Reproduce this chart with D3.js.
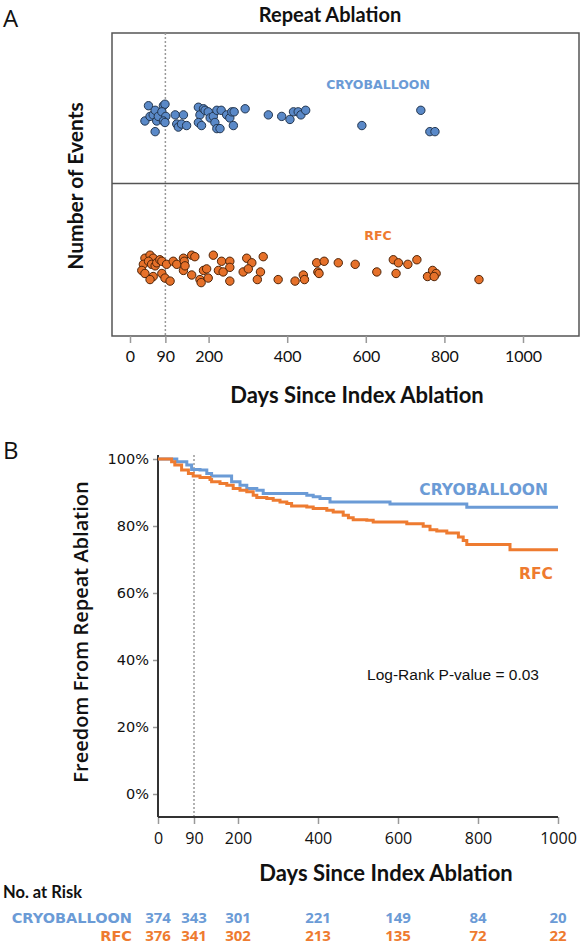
<!DOCTYPE html>
<html><head><meta charset="utf-8">
<script src="https://cdn.jsdelivr.net/npm/d3@7"></script>
<style>body{margin:0;background:#fff}svg{display:block}</style>
</head><body>
<script>
// ---------- DATA ----------
const xTicks = [0, 90, 200, 400, 600, 800, 1000];
const yTicksB = [0, 20, 40, 60, 80, 100];
// Panel A events: day of repeat ablation and vertical jitter (band units)
const cryoDays = [47,38,51,59,64,68,72,64,85,89,81,91,85,89,115,119,123,131,136,144,174,178,174,187,182,191,199,204,212,216,221,229,221,232,246,254,259,265,263,293,352,386,407,416,428,435,447,590,740,763,776];
const cryoJit  = [0.51,0.41,0.44,0.45,0.48,0.41,0.44,0.34,0.51,0.52,0.47,0.44,0.41,0.40,0.45,0.39,0.37,0.39,0.45,0.38,0.50,0.45,0.40,0.49,0.38,0.48,0.47,0.43,0.44,0.40,0.36,0.36,0.48,0.48,0.45,0.43,0.47,0.47,0.38,0.49,0.45,0.44,0.42,0.47,0.47,0.45,0.48,0.38,0.48,0.34,0.34];
const rfcDays = [38,51,59,34,30,38,47,55,64,68,76,81,59,51,81,89,93,102,110,119,136,138,136,140,157,165,157,178,181,187,195,199,212,233,225,237,254,254,254,288,297,310,301,324,332,339,377,420,441,444,475,494,478,481,530,573,628,670,683,677,707,730,757,770,779,774,888];
const rfcJit  = [-0.49,-0.47,-0.49,-0.53,-0.57,-0.59,-0.51,-0.53,-0.54,-0.52,-0.50,-0.51,-0.61,-0.63,-0.59,-0.62,-0.53,-0.64,-0.51,-0.53,-0.49,-0.51,-0.57,-0.54,-0.47,-0.48,-0.60,-0.63,-0.65,-0.57,-0.56,-0.62,-0.47,-0.51,-0.57,-0.58,-0.51,-0.55,-0.64,-0.58,-0.49,-0.52,-0.56,-0.63,-0.58,-0.48,-0.63,-0.64,-0.60,-0.63,-0.52,-0.51,-0.58,-0.59,-0.52,-0.53,-0.58,-0.50,-0.52,-0.59,-0.53,-0.50,-0.61,-0.57,-0.59,-0.61,-0.63];
// Panel B Kaplan-Meier (percent free from repeat ablation)
const cryoTimes = [0,47,72,84,105,122,134,184,205,222,247,263,372,388,405,430,580,772,1000];
const cryoSurv  = [100,99.2,98.2,96.9,96.7,95.7,94.9,93.2,92.2,91.2,90.7,89.7,89.2,88.7,88.2,87.2,86.6,85.6,85.6];
const rfcTimes = [0,34,42,59,76,88,105,130,134,155,172,188,205,222,238,247,272,288,305,322,334,372,388,422,438,463,476,488,522,538,622,663,680,697,722,751,763,772,880,1000];
const rfcSurv  = [100,99.2,98.2,96.7,95.7,94.9,94.5,93.9,93.2,92.7,92.2,91.2,90.7,90.2,89.2,88.5,88.2,87.7,87.2,86.7,86.0,85.7,85.2,84.7,84.2,83.2,82.5,81.9,81.7,81.2,80.7,79.9,78.9,78.5,77.9,76.7,75.7,74.5,72.9,72.9];
// Number at risk
const riskDays = [0, 90, 200, 400, 600, 800, 1000];
const cryoRisk = [374, 343, 301, 221, 149, 84, 20];
const rfcRisk  = [376, 341, 302, 213, 135, 72, 22];
const groupNames = ["CRYOBALLOON", "RFC"];

// ---------- STYLE ----------
const BLUE = "#6b9bd6", ORANGE = "#ee7b30";
const DOT_BLUE = "#5a89c8", DOT_OR = "#e6712a";
const sansA = "Lato, 'Open Sans', sans-serif";
const sansB = "'Open Sans', 'Noto Sans', sans-serif";
const wide = "'DejaVu Sans', sans-serif";

const svg = d3.select("body").append("svg").attr("width", 583).attr("height", 947);
svg.append("rect").attr("width",583).attr("height",947).attr("fill","#fff");

// ================= PANEL A =================
const A = {left:112, right:579, top:33, bottom:336};
const xA = d3.scaleLinear().domain([0,1000]).range([130,523]);
const yA = d3.scaleLinear().domain([-1,1]).range([A.bottom, 31]);

svg.append("text").attr("x",3).attr("y",27).text("A")
  .attr("font-family","'Open Sans', sans-serif").attr("font-size",24).attr("fill","#111");
svg.append("text").attr("x",330).attr("y",22).attr("text-anchor","middle").text("Repeat Ablation")
  .attr("font-family",sansA).attr("font-weight","bold").attr("font-size",20).attr("fill","#111");

svg.append("rect").attr("x",A.left).attr("y",A.top).attr("width",A.right-A.left).attr("height",A.bottom-A.top)
  .attr("fill","none").attr("stroke","#555").attr("stroke-width",1.5);
svg.append("line").attr("x1",A.left).attr("x2",A.right).attr("y1",yA(0)).attr("y2",yA(0))
  .attr("stroke","#555").attr("stroke-width",1.5);
svg.append("line").attr("x1",xA(90)).attr("x2",xA(90)).attr("y1",A.top).attr("y2",A.bottom)
  .attr("stroke","#999").attr("stroke-width",1.5).attr("stroke-dasharray","2,2");

const axA = svg.append("g").attr("transform",`translate(0,${A.bottom})`)
  .call(d3.axisBottom(xA).tickValues(xTicks).tickSize(7).tickPadding(8).tickFormat(d3.format("d")));
axA.select(".domain").remove();
axA.selectAll(".tick line").attr("stroke","#999").attr("stroke-width",1.5);
axA.selectAll(".tick text").attr("font-family",sansA).attr("font-size",16).attr("fill","#111");

svg.append("text").attr("x",357).attr("y",403).attr("text-anchor","middle").text("Days Since Index Ablation")
  .attr("font-family",sansA).attr("font-weight","bold").attr("font-size",22).attr("fill","#111");
svg.append("text").attr("transform","translate(83,186) rotate(-90)").attr("text-anchor","middle").text("Number of Events")
  .attr("font-family",sansA).attr("font-weight","bold").attr("font-size",21).attr("fill","#111");

svg.append("g").selectAll("circle").data(cryoDays.map((d,i)=>[d,cryoJit[i]])).join("circle")
  .attr("cx",d=>xA(d[0])).attr("cy",d=>yA(d[1])).attr("r",4.2)
  .attr("fill",DOT_BLUE).attr("stroke","#23364f").attr("stroke-width",1);
svg.append("g").selectAll("circle").data(rfcDays.map((d,i)=>[d,rfcJit[i]])).join("circle")
  .attr("cx",d=>xA(d[0])).attr("cy",d=>yA(d[1])).attr("r",4.2)
  .attr("fill",DOT_OR).attr("stroke","#4e2408").attr("stroke-width",1);

svg.append("text").attr("x",378).attr("y",89).attr("text-anchor","middle").text(groupNames[0])
  .attr("font-family",wide).attr("font-weight","bold").attr("font-size",12.5).attr("fill",BLUE);
svg.append("text").attr("x",378).attr("y",240).attr("text-anchor","middle").text(groupNames[1])
  .attr("font-family",wide).attr("font-weight","bold").attr("font-size",12.5).attr("fill",ORANGE);

// ================= PANEL B =================
const xB = d3.scaleLinear().domain([0,1000]).range([158,558]);
const yB = d3.scaleLinear().domain([0,100]).range([794,459]);
const axisY = 817;

svg.append("text").attr("x",3).attr("y",459).text("B")
  .attr("font-family","'Open Sans', sans-serif").attr("font-size",24).attr("fill","#111");

svg.append("line").attr("x1",xB(90)).attr("x2",xB(90)).attr("y1",455).attr("y2",axisY)
  .attr("stroke","#999").attr("stroke-width",1.5).attr("stroke-dasharray","2,2");

const ayB = svg.append("g").attr("transform",`translate(${xB(0)},0)`)
  .call(d3.axisLeft(yB).tickValues(yTicksB).tickSize(5).tickPadding(4).tickFormat(d=>d+"%"));
ayB.select(".domain").remove();
ayB.selectAll(".tick line").attr("stroke","#999").attr("stroke-width",1.5);
ayB.selectAll(".tick text").attr("font-family",wide).attr("font-size",14.5).attr("fill","#111");

const axB = svg.append("g").attr("transform",`translate(0,${axisY})`)
  .call(d3.axisBottom(xB).tickValues(xTicks).tickSize(7).tickPadding(9).tickFormat(d3.format("d")));
axB.select(".domain").remove();
axB.selectAll(".tick line").attr("stroke","#999").attr("stroke-width",1.5);
axB.selectAll(".tick text").attr("font-family",sansB).attr("font-size",16).attr("fill","#111");

svg.append("line").attr("x1",xB(0)).attr("x2",xB(0)).attr("y1",455).attr("y2",axisY)
  .attr("stroke","#333").attr("stroke-width",2);
svg.append("line").attr("x1",xB(0)).attr("x2",xB(1000)).attr("y1",axisY).attr("y2",axisY)
  .attr("stroke","#333").attr("stroke-width",2);

const km = d3.line().x(d=>xB(d[0])).y(d=>yB(d[1])).curve(d3.curveStepAfter);
svg.append("path").attr("d",km(cryoTimes.map((t,i)=>[t,cryoSurv[i]])))
  .attr("fill","none").attr("stroke",BLUE).attr("stroke-width",3);
svg.append("path").attr("d",km(rfcTimes.map((t,i)=>[t,rfcSurv[i]])))
  .attr("fill","none").attr("stroke",ORANGE).attr("stroke-width",3);

svg.append("text").attr("x",548).attr("y",495).attr("text-anchor","end").text(groupNames[0])
  .attr("font-family",wide).attr("font-weight","bold").attr("font-size",15.5).attr("fill",BLUE);
svg.append("text").attr("x",553).attr("y",579).attr("text-anchor","end").text(groupNames[1])
  .attr("font-family",wide).attr("font-weight","bold").attr("font-size",15.5).attr("fill",ORANGE);

svg.append("text").attr("x",453).attr("y",680).attr("text-anchor","middle").text("Log-Rank P-value = 0.03")
  .attr("font-family","'Liberation Sans', Arial, sans-serif").attr("font-size",15.5).attr("fill","#111");

svg.append("text").attr("transform","translate(88,632) rotate(-90)").attr("text-anchor","middle").text("Freedom From Repeat Ablation")
  .attr("font-family",sansB).attr("font-weight",600).attr("font-size",20).attr("fill","#111");

svg.append("text").attr("x",386).attr("y",881).attr("text-anchor","middle").text("Days Since Index Ablation")
  .attr("font-family",sansA).attr("font-weight","bold").attr("font-size",22).attr("fill","#111");

// Number at risk table
svg.append("text").attr("x",3).attr("y",898).text("No. at Risk")
  .attr("font-family",sansA).attr("font-weight","bold").attr("font-size",16.5).attr("fill","#111");
const rows = [[groupNames[0], cryoRisk, BLUE, 923], [groupNames[1], rfcRisk, ORANGE, 941]];
rows.forEach(([name, vals, col, y]) => {
  svg.append("text").attr("x",132).attr("y",y).attr("text-anchor","end").text(name)
    .attr("font-family",wide).attr("font-weight","bold").attr("font-size",14.5).attr("fill",col);
  svg.append("g").selectAll("text").data(vals).join("text")
    .attr("x",(d,i)=>xB(riskDays[i])).attr("y",y).attr("text-anchor","middle").text(d=>d)
    .attr("font-family",sansB).attr("font-weight","bold").attr("font-size",15).attr("fill",col);
});
</script>
</body></html>
